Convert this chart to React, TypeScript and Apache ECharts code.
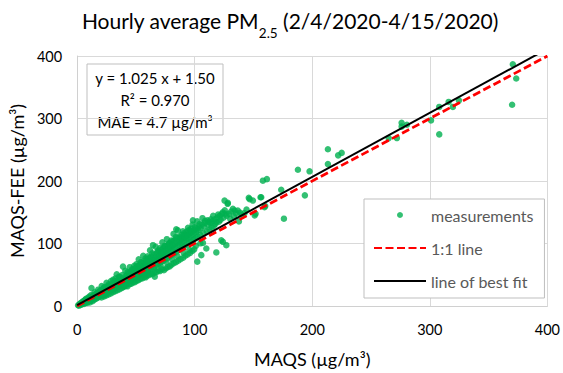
import { useEffect, useRef } from "react";
import * as echarts from "echarts";

// ---------- data ----------
const titleMain = "Hourly average PM";
const titleSub = "2.5";
const titleRest = " (2/4/2020-4/15/2020)";
const xAxisName = "MAQS (µg/m³)";
const yAxisName = "MAQS-FEE (µg/m³)";
const axisMin = 0;
const axisMax = 400;
const axisStep = 100;
const seriesNames = ["measurements", "1:1 line", "line of best fit"];
const equationLines = ["y = 1.025 x + 1.50", "R² = 0.970", "MAE = 4.7 µg/m³"];
const fitSlope = 1.025;
const fitIntercept = 1.5;
const oneToOne: [number, number][] = [[0, 0], [400, 400]];

// [MAQS, MAQS-FEE] hourly pairs
const measurements: [number, number][] = [
  [0.8,1.2],[1.5,0.6],[1.9,2.8],[2.6,3.9],[3.1,1.7],[3.4,5.2],[4.2,3.1],[4.5,6.8],[5.1,4.4],[5.6,8.1],[5.9,3.2],[6.4,6.9],[6.8,9.8],[7.2,5.1],[7.5,11.4],[8.1,7.6],[8.4,4.9],[8.8,10.2],[9.2,13.1],[9.6,7.3],[10.1,9.8],[10.4,15.2],[10.8,5.6],
  [11.2,12.1],[11.5,8.3],[11.9,17.4],[12.2,28.6],[12.4,10.9],[12.8,14.6],[13.1,7.8],[13.5,16.3],[13.9,12.8],[14.2,16.4],[14.6,10.1],[14.9,21.8],[15.3,14.7],[15.7,18.2],[16.1,11.6],[16.4,19.9],[16.8,16.9],[17.2,20.4],[17.5,13.2],[17.9,26.1],[18.3,18.8],[18.6,22.5],[19.0,15.1],[19.4,24.2],[19.8,20.6],[20.1,17.3],
  [20.5,24.1],[20.9,31.8],[21.3,19.2],[21.6,22.7],[22.0,27.4],[22.4,16.8],[22.8,25.3],[23.1,30.1],[23.5,21.4],[23.9,29.1],[24.3,24.6],[24.6,19.5],[25.0,37.2],[25.4,27.3],[25.8,31.6],[26.1,22.4],[26.5,26.8],[26.9,34.5],[27.3,29.7],[27.7,24.2],[28.0,33.5],[28.4,28.1],[28.8,39.8],[29.2,31.4],[29.6,25.8],[29.9,36.1],
  [30.3,30.2],[30.7,42.1],[31.1,34.8],[31.5,27.3],[31.8,39.5],[32.2,32.6],[32.6,44.1],[33.0,29.4],[33.4,36.7],[33.7,50.8],[34.1,34.3],[34.5,41.2],[34.9,31.1],[35.3,38.6],[35.6,46.9],[36.0,35.8],[36.4,46.3],[36.8,40.4],[37.2,33.2],[37.5,43.7],[37.9,38.1],[38.3,49.6],[38.7,36.4],[39.0,63.0],[39.4,42.3],[39.8,31.7],
  [40.2,45.8],[40.6,39.4],[41.0,56.3],[41.3,43.1],[41.7,35.2],[42.1,48.9],[42.5,41.6],[42.9,54.1],[43.2,46.3],[43.6,38.7],[44.0,52.4],[44.4,44.9],[44.8,62.1],[45.1,49.1],[45.5,40.8],[45.9,55.6],[46.3,47.2],[46.7,58.7],[47.0,51.8],[47.4,43.9],[47.8,58.4],[48.2,49.6],[48.6,64.2],[48.9,53.3],[49.3,45.4],[49.7,61.2],
  [50.1,51.9],[50.5,66.9],[50.9,56.6],[51.3,47.1],[51.6,63.8],[52.0,54.2],[52.4,74.6],[52.8,58.9],[53.2,49.3],[53.5,66.1],[53.9,56.7],[54.3,70.2],[54.7,61.4],[55.1,51.6],[55.5,68.9],[55.8,59.2],[56.2,80.3],[56.6,63.7],[57.0,53.8],[57.4,71.5],[57.7,61.9],[58.1,76.1],[58.5,66.2],[58.9,56.1],[59.3,74.1],[59.7,64.4],
  [60.0,79.4],[60.4,68.8],[60.8,57.9],[61.2,76.8],[61.6,66.3],[62.0,89.1],[62.3,71.2],[62.7,60.4],[63.1,79.2],[63.5,68.7],[63.9,84.2],[64.3,73.8],[64.5,97.3],[64.9,62.6],[65.2,81.9],[65.6,71.3],[66.0,47.0],[66.4,76.1],[66.8,94.8],[67.2,64.9],[67.5,84.6],[67.9,73.6],[68.3,78.8],[68.7,88.6],[69.1,67.1],[69.4,87.3],[69.8,76.4],
  [70.2,81.3],[70.6,92.7],[71.0,69.8],[71.4,89.8],[71.7,78.7],[72.1,84.1],[72.5,101.8],[72.9,72.2],[73.3,92.6],[73.6,81.2],[74.0,86.7],[74.4,96.1],[74.8,74.6],[75.2,95.1],[75.6,83.9],[75.9,89.3],[76.3,106.9],[76.7,76.9],[77.1,97.8],[77.5,86.4],[77.8,91.8],[78.2,100.2],[78.6,79.2],[79.0,100.4],[79.4,89.1],[79.8,94.6],
  [80.1,104.8],[80.5,81.7],[80.9,103.2],[81.3,91.6],[81.7,97.1],[82.0,115.3],[82.4,84.4],[82.8,105.6],[83.2,94.2],[83.6,99.8],[84.0,110.2],[84.3,122.7],[84.7,87.1],[85.1,108.4],[85.5,96.9],[85.7,121.0],[86.2,102.3],[86.6,89.6],[87.0,111.2],[87.4,99.5],[87.8,105.1],[88.1,109.5],[88.5,92.3],[88.9,113.7],[89.3,102.1],[89.7,107.9],
  [90.0,119.4],[90.4,95.1],[90.8,116.3],[91.2,104.8],[91.6,110.6],[92.0,114.2],[92.4,97.6],[92.8,108.0],[93.2,118.9],[93.6,107.2],[93.9,113.4],[94.3,125.1],[94.7,100.3],[95.1,121.6],[95.5,110.1],[95.9,116.2],[96.3,120.3],[96.7,103.1],[97.0,123.8],[97.4,112.8],[97.8,118.7],[98.2,130.4],[98.5,137.0],[98.9,106.2],[99.3,115.6],[99.7,121.3],
  [100.2,126.1],[100.6,108.4],[101.1,118.5],[101.6,124.2],[102.1,135.6],[102.2,71.0],[102.6,111.1],[103.1,121.4],[103.6,127.3],[104.1,131.2],[104.6,113.7],[105.1,124.3],[105.6,81.4],[106.1,130.2],[106.6,140.5],[107.0,101.0],[107.4,116.6],[107.9,127.1],[108.4,133.1],[108.9,136.4],[109.9,92.0],[110.3,119.6],[110.8,137.0],[111.3,130.0],[112.0,134.7],[112.5,122.4],[113.2,132.8],[113.8,138.6],[114.4,125.6],
  [115.0,135.7],[115.7,144.2],[116.3,128.3],[117.0,138.6],[117.6,131.4],[118.4,134.4],[118.4,85.7],[119.2,141.5],[119.9,146.3],[120.6,134.8],[121.3,144.4],[122.0,137.9],[122.6,105.0],[123.1,147.3],[123.8,150.0],[124.0,102.7],[124.5,141.2],[125.4,168.7],[125.6,153.1],[126.3,147.6],[126.9,97.3],[127.2,144.4],[128.0,163.5],[128.2,165.0],[129.1,147.5],[130.2,139.6],[131.0,151.2],[132.5,155.5],[133.4,143.6],[134.0,152.8],[135.2,148.1],[136.7,152.8],[137.6,135.4],[138.5,149.3],[140.1,145.9],
  [142.3,148.6],[144.1,154.3],[146.0,173.0],[146.7,171.0],[149.5,168.7],[151.0,145.0],[151.8,147.6],[156.0,174.0],[156.6,174.0],[158.0,200.5],[159.4,158.0],[160.0,160.0],[161.4,203.0],[173.6,186.0],[175.9,139.7],[187.8,218.0],[193.7,177.0],[197.7,215.5],[213.3,250.8],[213.3,227.0],[222.0,241.0],[225.0,245.0],[265.0,268.7],[272.0,268.7],[276.0,293.0],[276.0,287.0],[280.5,290.0],[301.0,297.0],[308.0,318.5],[308.0,274.6],[316.0,326.5],[319.6,318.5],[324.7,329.0],[370.0,322.0],[370.6,386.8],[373.5,364.0],
  // lower side of the band
  [20.7,13.8],[22.9,15.2],[24.8,16.9],[26.7,18.6],[28.6,20.1],[30.5,22.0],[32.4,23.6],[34.3,25.4],[36.2,26.8],[38.1,28.9],[39.6,30.4],
  [41.4,32.1],[42.8,31.5],[44.6,34.8],[46.1,35.6],[47.6,37.9],[49.1,38.2],[50.7,40.6],[52.2,41.3],[53.7,43.8],[55.3,44.1],[56.9,46.2],[58.3,45.9],[59.5,48.7],
  [61.0,49.4],[62.5,51.8],[64.1,50.9],[65.8,53.6],[67.4,54.2],[69.0,56.8],[70.4,55.9],[72.0,58.7],[73.8,57.4],[75.4,60.3],[77.0,62.1],[78.8,63.5],
  [80.3,66.2],[82.2,68.5],[84.1,70.3],[86.0,72.6],[88.0,74.9],[90.2,77.2],[92.1,80.4],[94.0,82.6],[96.1,85.1],[98.0,88.3],[99.6,90.7],
  [45.2,41.5],[50.3,46.4],[55.9,51.2],[60.2,55.3],[65.4,60.1],[70.9,65.2],[75.8,70.4],[80.7,75.1],[85.3,79.6],[90.6,85.3],[95.4,89.7],[100.9,96.2],[104.8,100.3],
];

const fitLine: [number, number][] = [
  [axisMin, fitSlope * axisMin + fitIntercept],
  [axisMax, fitSlope * axisMax + fitIntercept],
];

const FONT = "Lato, 'Open Sans', sans-serif";

export default function App() {
  const ref = useRef<HTMLDivElement>(null);
  useEffect(() => {
    if (!ref.current) return;
    const chart = echarts.init(ref.current, undefined, { renderer: "svg" });
    const axisCommon = {
      type: "value" as const,
      min: axisMin,
      max: axisMax,
      interval: axisStep,
      nameLocation: "middle" as const,
      nameTextStyle: { fontSize: 18, color: "#000", fontFamily: FONT },
      axisLine: { show: true, lineStyle: { color: "#D0D0D0", width: 1 } },
      axisTick: { show: false },
      splitLine: { show: true, lineStyle: { color: "#D9D9D9", width: 1 } },
    };
    const hiddenSymbol = { opacity: 0 };
    chart.setOption({
      animation: false,
      textStyle: { fontFamily: FONT },
      grid: { left: 77, right: 15, top: 56, bottom: 65, containLabel: false },
      xAxis: {
        ...axisCommon,
        name: xAxisName,
        nameGap: 44,
        axisLabel: { fontSize: 14.5, color: "#000", margin: 16, fontFamily: FONT },
      },
      yAxis: {
        ...axisCommon,
        name: yAxisName,
        nameGap: 49,
        axisLabel: { fontSize: 14.5, color: "#000", margin: 15, fontFamily: FONT },
      },
      legend: {
        orient: "vertical",
        left: 364,
        top: 199,
        padding: [8, 11, 9, 9],
        itemGap: 17,
        itemWidth: 52,
        itemHeight: 6,
        backgroundColor: "#fff",
        borderColor: "#BFBFBF",
        borderWidth: 1,
        borderRadius: 0,
        textStyle: { fontSize: 16, color: "#595959", fontFamily: FONT },
        data: [
          { name: seriesNames[0] },
          { name: seriesNames[1], itemStyle: hiddenSymbol },
          { name: seriesNames[2], itemStyle: hiddenSymbol },
        ],
      },
      graphic: [
        {
          type: "text",
          x: 290,
          y: 0,
          z: 10,
          style: {
            text: `${titleMain}{sub|${titleSub}}${titleRest}`,
            fontSize: 21,
            fontFamily: FONT,
            lineHeight: 40,
            fill: "#000",
            align: "center",
            verticalAlign: "top",
            rich: {
              sub: { fontSize: 13.5, lineHeight: 14, verticalAlign: "bottom", fontFamily: FONT, fill: "#000" },
            },
          },
        },
        {
          type: "group",
          z: 10,
          children: [
            {
              type: "rect",
              shape: { x: 87, y: 64, width: 136, height: 71 },
              style: { fill: "#fff", stroke: "#BFBFBF", lineWidth: 1 },
            },
            ...equationLines.map((t, i) => ({
              type: "text",
              x: 155,
              y: 78.3 + i * 21.7,
              style: {
                text: t,
                fontSize: 15,
                fontFamily: FONT,
                fill: "#000",
                align: "center",
                verticalAlign: "middle",
              },
            })),
          ],
        },
      ],
      series: [
        {
          name: seriesNames[0],
          type: "scatter",
          data: measurements,
          symbol: "circle",
          symbolSize: 6.5,
          itemStyle: { color: "#00B050" },
          z: 2,
        },
        {
          name: seriesNames[1],
          type: "line",
          data: oneToOne,
          symbol: "none",
          showSymbol: false,
          lineStyle: { color: "#FF0000", width: 2.75, type: [8, 3.5] },
          itemStyle: { color: "#FF0000" },
          z: 3,
        },
        {
          name: seriesNames[2],
          type: "line",
          data: fitLine,
          symbol: "none",
          showSymbol: false,
          lineStyle: { color: "#000", width: 2 },
          itemStyle: { color: "#000" },
          z: 4,
        },
      ],
    });
    return () => chart.dispose();
  }, []);
  return (
    <div
      ref={ref}
      style={{ position: "absolute", left: 0, top: 0, width: 563, height: 373, background: "#fff" }}
    />
  );
}
